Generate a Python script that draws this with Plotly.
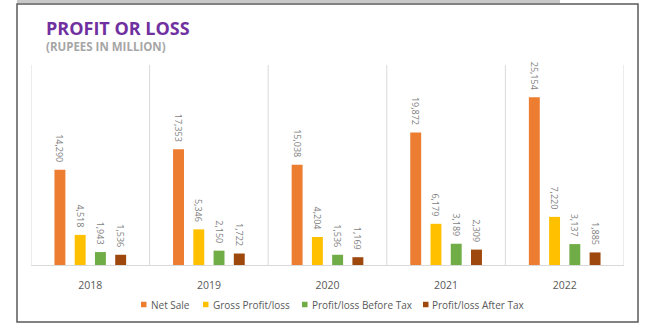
import plotly.graph_objects as go

years = ["2018", "2019", "2020", "2021", "2022"]
net_sale = [14290, 17353, 15038, 19872, 25154]
gross_profit = [4518, 5346, 4204, 6179, 7220]
profit_before_tax = [1943, 2150, 1536, 3189, 3137]
profit_after_tax = [1536, 1722, 1169, 2309, 1885]

series_names = ["Net Sale", "Gross Profit/loss", "Profit/loss Before Tax", "Profit/loss After Tax"]
series_values = [net_sale, gross_profit, profit_before_tax, profit_after_tax]
series_colors = ["#ED7D31", "#FFC000", "#70AD47", "#9E480E"]

fig = go.Figure()
for name, vals, color in zip(series_names, series_values, series_colors):
    fig.add_trace(go.Bar(
        x=years, y=vals, name=name,
        marker=dict(color=color, line=dict(width=0)),
        text=[f"{v:,}\u2002" for v in vals],
        textposition="outside", textangle=90,
        constraintext="none", cliponaxis=False,
        textfont=dict(family="Open Sans", size=9, color="#7f7f7f"),
        showlegend=False,
    ))

W, H = 645, 333
L, R, T, B = 31, 21, 65, 68
pw = W - L - R
ph = H - T - B

def px(x):
    return (x - L) / pw

def py(y):
    return (H - B - y) / ph

shapes = []
# category separators
for i in range(len(years) + 1):
    shapes.append(dict(type="line", xref="x", yref="y", x0=i - 0.5, x1=i - 0.5,
                       y0=0, y1=30000, line=dict(color="#d9d9d9", width=1), layer="below"))
# outer frame
shapes.append(dict(type="rect", xref="paper", yref="paper", x0=px(17), x1=px(638),
                   y0=py(322), y1=py(4), line=dict(color="#5a5a5a", width=1.5)))
# gray strip above frame
shapes.append(dict(type="rect", xref="paper", yref="paper", x0=px(17), x1=px(560),
                   y0=py(3), y1=py(0), line=dict(width=0), fillcolor="#c8c8c8"))

annotations = [
    dict(text="<b>PROFIT OR LOSS</b>", xref="paper", yref="paper", x=px(44), y=py(28),
         xanchor="left", yanchor="middle", showarrow=False,
         font=dict(family="Open Sans", size=18, color="#7030A0")),
    dict(text="<b>(RUPEES IN MILLION)</b>", xref="paper", yref="paper", x=px(44), y=py(46),
         xanchor="left", yanchor="middle", showarrow=False,
         font=dict(family="Open Sans", size=11.5, color="#a6a6a6")),
]

# legend (Excel-style compact legend)
legend_left = [141, 203, 302, 423]
legend_y = 304.5
for lx, name, color in zip(legend_left, series_names, series_colors):
    shapes.append(dict(type="rect", xref="paper", yref="paper",
                       x0=px(lx), x1=px(lx + 5.5), y0=py(legend_y + 2.75), y1=py(legend_y - 2.75),
                       line=dict(width=0), fillcolor=color))
    annotations.append(dict(text=name, xref="paper", yref="paper", x=px(lx + 7.5), y=py(legend_y),
                            xanchor="left", yanchor="middle", showarrow=False,
                            font=dict(family="Open Sans", size=10, color="#595959")))

fig.update_layout(
    width=W, height=H,
    margin=dict(l=L, r=R, t=T, b=B),
    paper_bgcolor="white", plot_bgcolor="white",
    barmode="group", bargap=0.317, bargroupgap=0.46,
    showlegend=False,
    xaxis=dict(showgrid=False, showline=True, linecolor="#d9d9d9", linewidth=1,
               ticks="", ticklabelstandoff=10,
               tickfont=dict(family="Open Sans", size=10.5, color="#595959"),
               range=[-0.5, 4.5]),
    yaxis=dict(range=[0, 30000], visible=False, showgrid=False, zeroline=False),
    shapes=shapes, annotations=annotations,
    font=dict(family="Open Sans"),
)

fig.write_html("out.html")
